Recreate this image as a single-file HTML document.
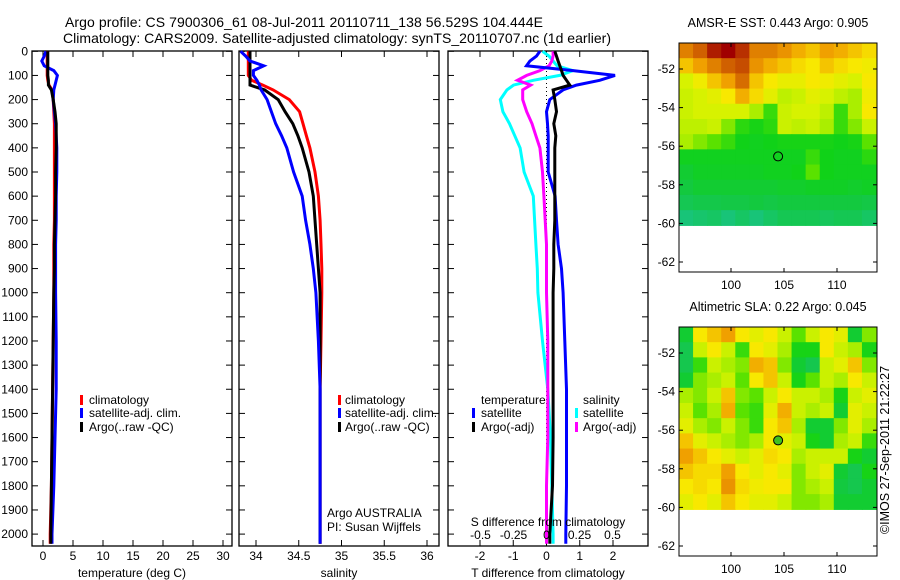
<!DOCTYPE html>
<html><head><meta charset="utf-8"><style>
html,body{margin:0;padding:0;background:#fff;}
svg{display:block;font-family:"Liberation Sans",sans-serif;}
</style></head><body>
<svg id="c" width="900" height="580" viewBox="0 0 900 580" xmlns="http://www.w3.org/2000/svg">
<text x="65" y="27" font-size="14" textLength="478">Argo profile: CS 7900306_61 08-Jul-2011 20110711_138 56.529S 104.444E</text>
<text x="63" y="43" font-size="14" textLength="548">Climatology: CARS2009. Satellite-adjusted climatology: synTS_20110707.nc (1d earlier)</text>
<text transform="translate(889,450) rotate(-90)" font-size="12.5" text-anchor="middle">©IMOS 27-Sep-2011 21:22:27</text>
</svg>
<script>
// ---------- data ----------
const depths = [0,20,40,60,80,100,120,140,160,200,250,300,350,400,500,600,700,800,900,1000,1200,1400,1600,1800,2000,2040];
const tempClim = [0.7,0.7,0.7,0.7,0.7,0.7,0.8,1.0,1.5,1.7,1.8,1.9,1.9,1.9,1.9,1.9,1.9,1.8,1.8,1.8,1.7,1.6,1.5,1.4,1.2,1.2];
const tempArgo = [0.8,0.8,0.8,0.8,0.8,0.8,0.9,0.9,1.4,1.7,2.0,2.2,2.2,2.2,2.1,2.1,2.0,1.9,1.9,1.8,1.7,1.6,1.5,1.4,1.3,1.3];
const tempSat = [0.5,0.2,-0.2,0.2,1.8,2.4,2.2,2.0,1.8,1.7,1.9,2.1,2.2,2.3,2.3,2.2,2.2,2.1,2.1,2.1,2.2,2.2,2.0,1.8,1.5,1.5];
const salClim = [33.91,33.91,33.91,33.91,33.91,33.91,33.95,34.08,34.2,34.39,34.51,34.55,34.59,34.63,34.69,34.73,34.75,34.76,34.77,34.77,34.76,34.75,34.75,34.75,34.75,34.75];
const salArgo = [33.93,33.93,33.93,33.93,33.93,33.93,33.93,33.93,34.1,34.26,34.34,34.43,34.49,34.54,34.62,34.67,34.69,34.71,34.73,34.75,34.75,34.75,34.75,34.75,34.75,34.75];
const salSat = [33.82,33.88,33.93,34.09,33.97,33.97,34.01,34.04,34.06,34.13,34.18,34.23,34.3,34.36,34.44,34.54,34.58,34.63,34.67,34.7,34.73,34.75,34.75,34.75,34.75,34.75];
const dTempSat = [-0.2,-0.3,-0.5,-0.6,0.8,2.06,1.6,0.9,0.5,0.1,0.0,0.03,0.05,0.05,0.05,0.26,0.3,0.35,0.45,0.5,0.55,0.6,0.6,0.6,0.58,0.58];
const dTempArgo = [0.25,0.3,0.35,0.4,0.45,0.5,0.6,0.7,0.2,0.25,0.3,0.22,0.28,0.25,0.25,0.25,0.25,0.22,0.22,0.2,0.2,0.2,0.2,0.18,0.1,0.1];
const dSalSat = [-0.03,0.02,0.05,0.08,0.2,0.1,-0.1,-0.25,-0.3,-0.35,-0.33,-0.28,-0.24,-0.2,-0.17,-0.1,-0.09,-0.08,-0.07,-0.065,-0.03,0.01,0.03,0.04,0.05,0.05];
const dSalArgo = [0.05,0.05,0.04,0.02,-0.05,-0.15,-0.22,-0.12,-0.18,-0.18,-0.15,-0.11,-0.08,-0.05,-0.03,-0.02,-0.01,0,0,0,0.01,0.01,0.01,0,0,0];
const depthTicks = [0,100,200,300,400,500,600,700,800,900,1000,1100,1200,1300,1400,1500,1600,1700,1800,1900,2000];
const tempTicks = [0,5,10,15,20,25,30];
const salTicks = [34,34.5,35,35.5,36];
const salTickLabels = ["34","34.5","35","35.5","36"];
const dTTicks = [-2,-1,0,1,2];
const dSTicks = [-0.5,-0.25,0,0.25,0.5];
const dSTickLabels = ["-0.5","-0.25","0","0.25","0.5"];
const sstGrid = [
[0.85,0.9,0.97,1,0.95,0.85,0.85,0.82,0.78,0.75,0.8,0.78,0.75,0.72],
[0.75,0.8,0.85,0.9,0.92,0.82,0.78,0.75,0.72,0.7,0.75,0.72,0.7,0.68],
[0.62,0.68,0.75,0.8,0.88,0.75,0.7,0.66,0.66,0.7,0.68,0.65,0.62,0.7],
[0.6,0.62,0.65,0.7,0.78,0.72,0.65,0.58,0.6,0.65,0.62,0.58,0.55,0.68],
[0.6,0.62,0.62,0.62,0.62,0.55,0.4,0.6,0.62,0.62,0.58,0.4,0.55,0.7],
[0.58,0.58,0.6,0.5,0.38,0.35,0.38,0.6,0.58,0.6,0.55,0.4,0.5,0.6],
[0.55,0.5,0.45,0.4,0.34,0.33,0.34,0.35,0.35,0.35,0.35,0.34,0.35,0.45],
[0.33,0.33,0.33,0.33,0.33,0.33,0.33,0.33,0.33,0.4,0.34,0.33,0.33,0.38],
[0.3,0.32,0.32,0.32,0.32,0.32,0.33,0.33,0.34,0.45,0.34,0.33,0.33,0.33],
[0.28,0.3,0.3,0.3,0.3,0.3,0.3,0.31,0.31,0.32,0.32,0.32,0.31,0.32],
[0.24,0.26,0.26,0.27,0.27,0.28,0.27,0.28,0.28,0.28,0.28,0.28,0.28,0.27],
[0.15,0.18,0.2,0.15,0.2,0.15,0.2,0.24,0.24,0.24,0.22,0.24,0.24,0.2]];
const slaGrid = [
[0.3,0.7,0.75,0.8,0.7,0.65,0.7,0.6,0.45,0.6,0.7,0.65,0.3,0.5],
[0.25,0.6,0.7,0.6,0.4,0.7,0.65,0.55,0.35,0.35,0.7,0.6,0.55,0.35],
[0.25,0.4,0.6,0.55,0.5,0.78,0.75,0.5,0.3,0.25,0.6,0.65,0.75,0.5],
[0.3,0.5,0.55,0.6,0.45,0.7,0.75,0.6,0.35,0.45,0.6,0.55,0.7,0.6],
[0.55,0.5,0.6,0.75,0.5,0.45,0.6,0.7,0.6,0.6,0.55,0.35,0.6,0.65],
[0.6,0.45,0.55,0.78,0.45,0.4,0.65,0.78,0.6,0.55,0.6,0.3,0.65,0.6],
[0.65,0.55,0.5,0.6,0.5,0.4,0.7,0.75,0.55,0.3,0.3,0.5,0.65,0.55],
[0.75,0.65,0.6,0.55,0.5,0.55,0.7,0.65,0.6,0.35,0.3,0.55,0.6,0.4],
[0.8,0.75,0.7,0.65,0.6,0.65,0.72,0.7,0.55,0.6,0.6,0.6,0.35,0.3],
[0.75,0.72,0.72,0.8,0.7,0.65,0.7,0.65,0.5,0.6,0.65,0.3,0.25,0.35],
[0.7,0.72,0.7,0.82,0.72,0.68,0.7,0.7,0.5,0.55,0.6,0.28,0.25,0.3],
[0.65,0.7,0.65,0.75,0.7,0.65,0.65,0.6,0.5,0.5,0.55,0.3,0.3,0.3]];
const latTicks = [-52,-54,-56,-58,-60,-62];
const lonTicks = [100,105,110];
const argoLon = 104.444, argoLat = -56.529;

// ---------- helpers ----------
const svg = document.getElementById('c');
const NS = 'http://www.w3.org/2000/svg';
function mk(tag, attrs, parent){const e=document.createElementNS(NS,tag);for(const k in attrs)e.setAttribute(k,attrs[k]);(parent||svg).appendChild(e);return e;}
const Y = d => 51.3 + d*0.2414;
const panelTop = 51, panelBot = 546;

function panel(x0,x1,name){
  const r = mk('rect',{x:x0,y:panelTop,width:x1-x0,height:panelBot-panelTop,fill:'none',stroke:'#000','stroke-width':1.3});
  
  
  depthTicks.forEach(d=>{
    const t1 = mk('line',{x1:x0,x2:x0+6,y1:Y(d),y2:Y(d),stroke:'#000'});
    
    
    const t2 = mk('line',{x1:x1-6,x2:x1,y1:Y(d),y2:Y(d),stroke:'#000'});
    
    
  });
}
function xticks(ticks,labels,X,name){
  ticks.forEach((v,i)=>{
    const a = mk('line',{x1:X(v),x2:X(v),y1:panelTop,y2:panelTop+6,stroke:'#000'});
    
    
    const b = mk('line',{x1:X(v),x2:X(v),y1:panelBot-6,y2:panelBot,stroke:'#000'});
    
    
    const t = mk('text',{x:X(v),y:560,'font-size':12,'text-anchor':'middle'});
    t.textContent = labels[i];
    
    
  });
}
function line(vals,X,color,name,w){
  const pts = vals.map((v,i)=>X(v).toFixed(1)+','+Y(depths[i]).toFixed(1)).join(' ');
  const p = mk('polyline',{points:pts,fill:'none',stroke:color,'stroke-width':w||3,'stroke-linejoin':'miter'});
  
  
}
function txt(x,y,s,name,extra){
  const t = mk('text',Object.assign({x:x,y:y,'font-size':12},extra||{}));
  t.textContent = s;
  
  
  return t;
}
function bar(x,y,color,name){
  const r = mk('rect',{x:x,y:y-10,width:3,height:10,fill:color});
  
  
}

// ---------- panel 1: temperature ----------
const XT = v => 43 + v*6;
panel(32,232,'temperature-panel');
xticks(tempTicks,tempTicks.map(String),XT,'temperature-x');
depthTicks.forEach(d=>txt(28,Y(d)+4,String(d),'depth-tick-label',{'text-anchor':'end'}));
line(tempClim,XT,'#ff0000','temperature-climatology-line');
line(tempSat,XT,'#0000ff','temperature-satellite-line');
line(tempArgo,XT,'#000000','temperature-argo-line');
txt(132,577,'temperature (deg C)','temperature-axis-title',{'text-anchor':'middle'});
bar(80,405,'#ff0000','legend-climatology-swatch'); txt(89,404,'climatology','legend-climatology-label');
bar(80,418,'#0000ff','legend-satellite-swatch'); txt(89,417,'satellite-adj. clim.','legend-satellite-label');
bar(80,432,'#000000','legend-argo-swatch'); txt(89,431,'Argo(..raw -QC)','legend-argo-label');

// ---------- panel 2: salinity ----------
const XS = v => 256 + (v-34)*85.5;
panel(239,439,'salinity-panel');
xticks(salTicks,salTickLabels,XS,'salinity-x');
line(salClim,XS,'#ff0000','salinity-climatology-line');
line(salArgo,XS,'#000000','salinity-argo-line');
line(salSat,XS,'#0000ff','salinity-satellite-line');
txt(339,577,'salinity','salinity-axis-title',{'text-anchor':'middle'});
bar(338,405,'#ff0000','legend2-climatology-swatch'); txt(345,404,'climatology','legend2-climatology-label');
bar(338,418,'#0000ff','legend2-satellite-swatch'); txt(345,417,'satellite-adj. clim.','legend2-satellite-label');
bar(338,432,'#000000','legend2-argo-swatch'); txt(345,431,'Argo(..raw -QC)','legend2-argo-label');
txt(327,517,'Argo AUSTRALIA','argo-australia-label');
txt(327,531,'PI: Susan Wijffels','pi-label');

// ---------- panel 3: differences ----------
const XD = v => 546.5 + v*33.25;
const XDS = v => 546.5 + v*132;
panel(448,648,'difference-panel');
xticks(dTTicks,dTTicks.map(String),XD,'tdiff-x');
const zl = mk('line',{x1:XD(0),x2:XD(0),y1:panelTop,y2:panelBot,stroke:'#000','stroke-dasharray':'1,3'});


line(dSalSat,XDS,'#00ffff','salinity-diff-satellite-line');
line(dSalArgo,XDS,'#ff00ff','salinity-diff-argo-line');
line(dTempSat,XD,'#0000ff','temperature-diff-satellite-line');
line(dTempArgo,XD,'#000000','temperature-diff-argo-line');
dSTicks.forEach((v,i)=>txt(XDS(v),539,dSTickLabels[i],'sdiff-tick-label',{'text-anchor':'middle'}));
txt(548,526,'S difference from climatology','sdiff-axis-title',{'text-anchor':'middle'});
txt(548,577,'T difference from climatology','tdiff-axis-title',{'text-anchor':'middle'});
txt(481,404,'temperature','legend3-temperature-heading');
bar(472,418,'#0000ff','legend3-tsat-swatch'); txt(481,417,'satellite','legend3-tsat-label');
bar(472,432,'#000000','legend3-targo-swatch'); txt(481,431,'Argo(-adj)','legend3-targo-label');
txt(583,404,'salinity','legend3-salinity-heading');
bar(575,418,'#00ffff','legend3-ssat-swatch'); txt(583,417,'satellite','legend3-ssat-label');
bar(575,432,'#ff00ff','legend3-sargo-swatch'); txt(583,431,'Argo(-adj)','legend3-sargo-label');

// ---------- maps ----------
const cstops = [[0,[30,200,160]],[0.15,[24,196,120]],[0.27,[20,200,70]],[0.34,[16,210,24]],[0.45,[90,226,0]],[0.55,[170,238,0]],[0.62,[215,242,0]],[0.7,[248,232,0]],[0.8,[240,160,0]],[0.9,[208,96,0]],[1,[160,0,0]]];
function cmap(v){
  for(let i=1;i<cstops.length;i++){
    if(v<=cstops[i][0]){const a=cstops[i-1],b=cstops[i];const t=(v-a[0])/(b[0]-a[0]);
      const c=a[1].map((x,k)=>Math.round(x+(b[1][k]-x)*t));return 'rgb('+c.join(',')+')';}
  }
  return 'rgb(160,0,0)';
}
function map(top,grid,title,name,dotFill){
  const x0=679,x1=877,y1=top+229;
  const lonX = v => 731 + (v-100)*10.6;
  const latY = v => top+26 + (-52 - v)*19.3;
  txt(778,top-16,title,name+'-title',{'text-anchor':'middle','font-size':12.5});
  const rows=grid.length, cols=grid[0].length;
  const gx0=x0, gx1=876, gy0=top, gy1=latY(-60.1);
  const cw=(gx1-gx0)/cols, ch=(gy1-gy0)/rows;
  grid.forEach((row,r)=>row.forEach((v,c)=>{
    const cell = mk('rect',{x:(gx0+c*cw).toFixed(2),y:(gy0+r*ch).toFixed(2),width:(cw+0.6).toFixed(2),height:(ch+0.6).toFixed(2),fill:cmap(v)});
    
    
  }));
  const fr = mk('rect',{x:x0,y:top,width:x1-x0,height:y1-top,fill:'none',stroke:'#000','stroke-width':1});
  
  
  latTicks.forEach(v=>{
    const a = mk('line',{x1:x0,x2:x0+4,y1:latY(v),y2:latY(v),stroke:'#000'});
    
    
    const b = mk('line',{x1:x1-4,x2:x1,y1:latY(v),y2:latY(v),stroke:'#000'});
    
    
    txt(675,latY(v)+4,String(v),name+'-lat-label',{'text-anchor':'end'});
  });
  lonTicks.forEach(v=>{
    const a = mk('line',{x1:lonX(v),x2:lonX(v),y1:top,y2:top+4,stroke:'#000'});
    
    
    const b = mk('line',{x1:lonX(v),x2:lonX(v),y1:y1-4,y2:y1,stroke:'#000'});
    
    
    txt(lonX(v),y1+17,String(v),name+'-lon-label',{'text-anchor':'middle'});
  });
  const dot = mk('circle',{cx:lonX(argoLon),cy:latY(argoLat),r:4.5,fill:dotFill,stroke:'#000','stroke-width':1});
  
  
}
map(43,sstGrid,'AMSR-E SST: 0.443 Argo: 0.905','sst-map','none');
map(327,slaGrid,'Altimetric SLA: 0.22 Argo: 0.045','sla-map','#40c020');
</script>
</body></html>
